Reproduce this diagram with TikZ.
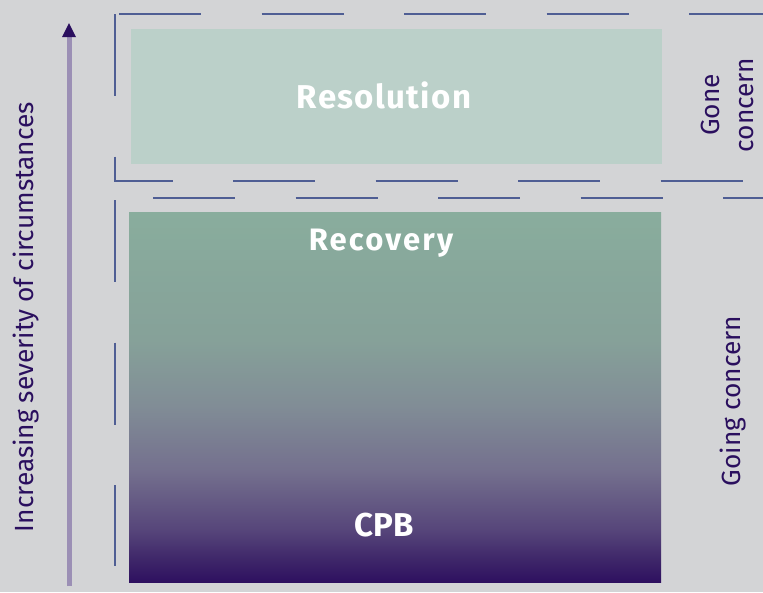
\documentclass[tikz,border=0pt]{standalone}
\usepackage{fontspec}
\setmainfont{Fira Sans}
\definecolor{bgcol}{HTML}{D3D4D6}
\definecolor{dashcol}{HTML}{4F5E94}
\definecolor{shaftcol}{HTML}{9B8FB5}
\definecolor{headcol}{HTML}{2A0E5E}
\definecolor{txtcol}{HTML}{2A0F5E}
\definecolor{resfill}{HTML}{BBD0C9}
\definecolor{gA}{HTML}{2E1060}
\definecolor{gB}{HTML}{3E2669}
\definecolor{gC}{HTML}{56457A}
\definecolor{gD}{HTML}{74708E}
\definecolor{gE}{HTML}{818D96}
\definecolor{gF}{HTML}{86A199}
\definecolor{gG}{HTML}{89AD9D}
\pgfdeclareverticalshading{recshade}{100bp}{%
  color(0bp)=(gA); color(25bp)=(gA); color(28bp)=(gB); color(32bp)=(gC);
  color(40.1bp)=(gD); color(48.9bp)=(gE); color(57.7bp)=(gF);
  color(75bp)=(gG); color(100bp)=(gG)}
\tikzset{
  dashline/.style={draw=dashcol, line width=2pt, dash pattern=on 82pt off 60.5pt},
  boxlabel/.style={text=white, anchor=base, inner sep=0pt},
  sidelabel/.style={text=txtcol, font=\fontsize{26.3}{28}\selectfont, anchor=base, rotate=90, inner sep=0pt},
}
\begin{document}
\begin{tikzpicture}[x=1pt,y=-1pt]
\fill[bgcol] (0,0) rectangle (763,592);
\useasboundingbox (0,0) rectangle (763,592);
% boxes
\fill[resfill] (131,29) rectangle (662,164);
\shade[shading=recshade] (129,212) rectangle (661,582);
% dashed frames
\draw[dashline] (119,14) -- (763,14);
\draw[dashline] (115,14) -- (115,181) -- (763,181);
\draw[dashline] (153,198) -- (763,198);
\draw[dashline] (115,200) -- (115,566);
% arrow
\coordinate (arrowbot) at (69,586);
\coordinate (arrowbase) at (69,37);
\coordinate (arrowtip) at (69,23);
\draw[shaftcol, line width=5pt] (arrowbot) -- (arrowbase);
\fill[headcol] (arrowtip) -- ([xshift=-7pt]arrowbase) -- ([xshift=7pt]arrowbase) -- cycle;
% labels
\node[boxlabel, font=\bfseries\fontsize{33}{35}\selectfont\addfontfeature{LetterSpace=4}] (res) at (384,108) {Resolution};
\node[boxlabel, font=\bfseries\fontsize{31}{33}\selectfont\addfontfeature{LetterSpace=7}] (rec) at (381,250) {Recovery};
\node[boxlabel, font=\bfseries\fontsize{33}{35}\selectfont] (cpb) at (384,536) {CPB};
\node[sidelabel] (sev) at (33,317) {Increasing severity of circumstances};
\node[sidelabel] (gone) at (719,105) {Gone};
\node[sidelabel] (concern) at (753,105) {concern};
\node[sidelabel] (going) at (740,401) {Going concern};
\end{tikzpicture}
\end{document}
